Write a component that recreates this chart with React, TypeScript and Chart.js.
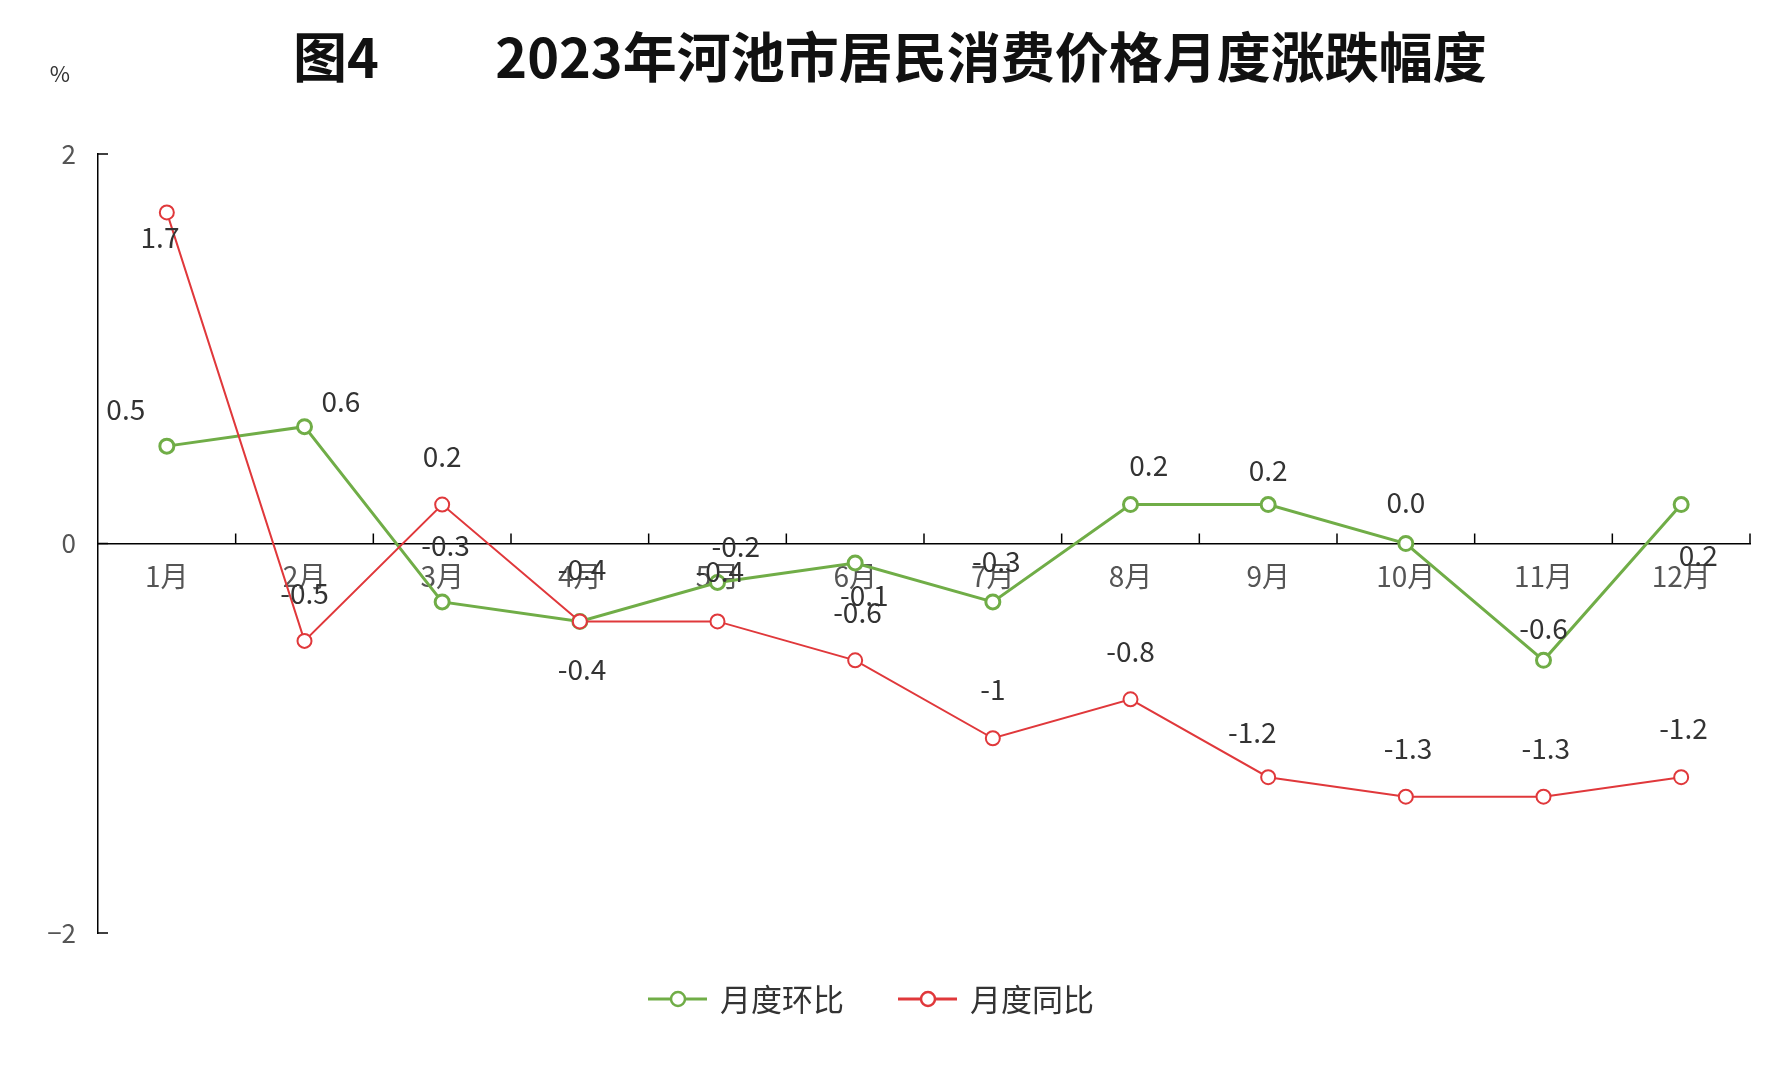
import React, { useEffect, useRef } from "react";
import { Chart, registerables } from "chart.js";
Chart.register(...registerables);

const months = ["1月","2月","3月","4月","5月","6月","7月","8月","9月","10月","11月","12月"];
const momValues = [0.5, 0.6, -0.3, -0.4, -0.2, -0.1, -0.3, 0.2, 0.2, 0.0, -0.6, 0.2];
const yoyValues = [1.7, -0.5, 0.2, -0.4, -0.4, -0.6, -1, -0.8, -1.2, -1.3, -1.3, -1.2];
const momLabels = ["0.5","0.6","-0.3","-0.4","-0.2","-0.1","-0.3","0.2","0.2","0.0","-0.6","0.2"];
const yoyLabels = ["1.7","-0.5","0.2","-0.4","-0.4","-0.6","-1","-0.8","-1.2","-1.3","-1.3","-1.2"];
const yTicks = [-2, 0, 2];

const S = 1.14;
// label offsets (display px, scaled)
const momOff = [[-36,-32],[32,-22],[3,-50],[2,-46],[16,-32],[8,28],[3,-36],[16,-34],[0,-30],[0,-36],[0,-28],[15,45]];
const yoyOff = [[-6,22],[0,-42],[0,-42],[2,42],[2,-44],[2,-42],[0,-43],[0,-42],[-14,-39],[2,-42],[2,-42],[2,-43]];

const GREEN = "#70AD47";
const RED = "#E0383B";
const FONT = "'Noto Sans CJK SC', 'Noto Sans', sans-serif";

export default function App() {
  const ref = useRef<HTMLCanvasElement>(null);
  useEffect(() => {
    const deco = {
      id: "deco",
      afterDraw(chart: any) {
        const ctx = chart.ctx;
        const x = chart.scales.x, y = chart.scales.y;
        const ca = chart.chartArea;
        ctx.save();
        ctx.strokeStyle = "#000"; ctx.lineWidth = 1.5;
        yTicks.forEach(v => {
          const py = y.getPixelForValue(v);
          ctx.beginPath(); ctx.moveTo(ca.left, py); ctx.lineTo(ca.left + 10, py); ctx.stroke();
        });
        const y0 = y.getPixelForValue(0);
        for (let i = 1; i <= months.length; i++) {
          const px = (x.getPixelForValue(i - 1) + x.getPixelForValue(i)) / 2;
          const pxx = i === months.length ? ca.right : px;
          ctx.beginPath(); ctx.moveTo(pxx, y0); ctx.lineTo(pxx, y0 - 10); ctx.stroke();
        }
        ctx.font = `28px ${FONT}`;
        ctx.fillStyle = "#333"; ctx.textAlign = "center"; ctx.textBaseline = "middle";
        const draw = (vals: number[], labs: string[], off: number[][]) => {
          vals.forEach((v, i) => {
            ctx.fillText(labs[i], x.getPixelForValue(i) + off[i][0] * S, y.getPixelForValue(v) + off[i][1] * S);
          });
        };
        draw(yoyValues, yoyLabels, yoyOff);
        draw(momValues, momLabels, momOff);
        ctx.fillStyle = "#111"; ctx.font = `bold 54px ${FONT}`;
        ctx.fillText("图4", 336, 57);
        ctx.fillText("2023年河池市居民消费价格月度涨跌幅度", 991, 57);
        ctx.font = `22px ${FONT}`; ctx.fillStyle = "#333";
        ctx.fillText("%", 60, 74);
        const ly = 999;
        const item = (x0: number, col: string, text: string) => {
          ctx.strokeStyle = col; ctx.lineWidth = 3;
          ctx.beginPath(); ctx.moveTo(x0, ly); ctx.lineTo(x0 + 59, ly); ctx.stroke();
          ctx.fillStyle = "#fff"; ctx.lineWidth = 2.5;
          ctx.beginPath(); ctx.arc(x0 + 30, ly, 7, 0, Math.PI * 2); ctx.fill(); ctx.stroke();
          ctx.fillStyle = "#333"; ctx.font = `31px ${FONT}`; ctx.textAlign = "left";
          ctx.fillText(text, x0 + 72, ly);
        };
        item(648, GREEN, "月度环比");
        item(898, RED, "月度同比");
        ctx.restore();
      },
    };
    const chart = new Chart(ref.current!, {
      type: "line",
      data: {
        labels: months,
        datasets: [
          { label: "月度同比", data: yoyValues, borderColor: RED, backgroundColor: "#fff", borderWidth: 2, pointRadius: 7, pointBorderWidth: 2, pointBackgroundColor: "#fff", pointBorderColor: RED },
          { label: "月度环比", data: momValues, borderColor: GREEN, backgroundColor: "#fff", borderWidth: 3, pointRadius: 7, pointBorderWidth: 3, pointBackgroundColor: "#fff", pointBorderColor: GREEN },
        ],
      },
      plugins: [deco],
      options: {
        animation: false, responsive: false,
        layout: { padding: { left: 38, right: 29, top: 154, bottom: 154 } },
        plugins: { legend: { display: false }, title: { display: false }, tooltip: { enabled: false } },
        scales: {
          x: {
            position: { y: 0 } as any, offset: true,
            grid: { display: false },
            border: { display: true, color: "#000", width: 1.5 },
            ticks: { color: "#555", font: { size: 28, family: FONT }, padding: 8 },
          },
          y: {
            min: -2, max: 2,
            afterFit: (s: any) => { s.width = 60; },
            afterBuildTicks: (s: any) => { s.ticks = yTicks.map(v => ({ value: v })); },
            grid: { display: false },
            border: { display: true, color: "#000", width: 1.5 },
            ticks: { color: "#555", font: { size: 26, family: FONT }, padding: 14, callback: (v: any) => (v < 0 ? "−" + Math.abs(v) : String(v)) },
          },
        },
      },
    });
    return () => chart.destroy();
  }, []);
  return (
    <div style={{ position: "absolute", left: 0, top: 0, width: 1779, height: 1087, background: "#fff" }}>
      <canvas ref={ref} width={1779} height={1087} style={{ width: 1779, height: 1087 }} />
    </div>
  );
}
